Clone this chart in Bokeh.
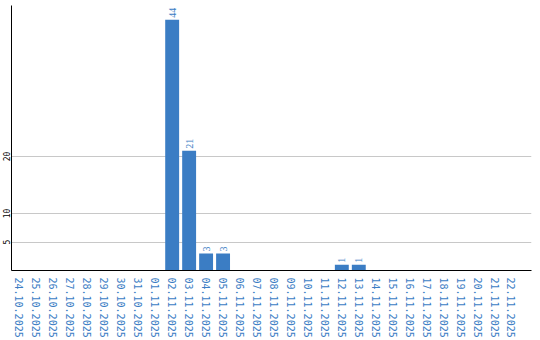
from bokeh.plotting import figure
from bokeh.models import Range1d, FixedTicker, ColumnDataSource, LabelSet
from bokeh.embed import file_html
from bokeh.resources import INLINE
import math

dates = ["24.10.2025", "25.10.2025", "26.10.2025", "27.10.2025", "28.10.2025",
         "29.10.2025", "30.10.2025", "31.10.2025", "01.11.2025", "02.11.2025",
         "03.11.2025", "04.11.2025", "05.11.2025", "06.11.2025", "07.11.2025",
         "08.11.2025", "09.11.2025", "10.11.2025", "11.11.2025", "12.11.2025",
         "13.11.2025", "14.11.2025", "15.11.2025", "16.11.2025", "17.11.2025",
         "18.11.2025", "19.11.2025", "20.11.2025", "21.11.2025", "22.11.2025"]
counts = [0, 0, 0, 0, 0, 0, 0, 0, 0, 44,
          21, 3, 3, 0, 0, 0, 0, 0, 0, 1,
          1, 0, 0, 0, 0, 0, 0, 0, 0, 0]
y_ticks = [5, 10, 20]

BLUE = "#3b7dc4"

idx = list(range(len(dates)))
src = ColumnDataSource(dict(x=idx, top=counts))
lab_x = [i for i, c in zip(idx, counts) if c > 0]
lab_y = [c for c in counts if c > 0]
lab_t = [str(c) for c in counts if c > 0]
lab_src = ColumnDataSource(dict(x=lab_x, y=lab_y, t=lab_t))

p = figure(width=540, height=340, output_backend="svg", toolbar_location=None,
           x_range=Range1d(-0.47, 30.18), y_range=Range1d(0, 46.5),
           min_border_left=0, min_border_right=9, min_border_top=5,
           min_border_bottom=0)
p.outline_line_color = None
p.background_fill_color = "white"
p.border_fill_color = "white"

p.vbar(x="x", top="top", width=0.82, bottom=0, source=src,
       fill_color=BLUE, line_color=None)

labels = LabelSet(x="x", y="y", text="t", source=lab_src, angle=math.pi / 2,
                  text_align="left", text_baseline="middle", y_offset=2,
                  text_font="DejaVu Sans Mono", text_font_size="10px",
                  text_color=BLUE)
p.add_layout(labels)

# y axis
ya = p.yaxis[0]
ya.ticker = FixedTicker(ticks=y_ticks)
ya.major_label_orientation = "vertical"
ya.major_label_text_font = "DejaVu Sans Mono"
ya.major_label_text_font_size = "8px"
ya.major_label_text_color = "black"
ya.major_tick_line_color = None
ya.minor_tick_line_color = None
ya.major_label_standoff = -5
ya.axis_line_color = "black"
ya.axis_line_width = 1

# x axis
xa = p.xaxis[0]
xa.ticker = FixedTicker(ticks=idx)
xa.major_label_overrides = {i: d for i, d in zip(idx, dates)}
xa.major_label_orientation = "vertical"
xa.major_label_text_font = "DejaVu Sans Mono"
xa.major_label_text_font_size = "10px"
xa.major_label_text_color = BLUE
xa.major_tick_line_color = None
xa.minor_tick_line_color = None
xa.major_label_standoff = 1
xa.axis_line_color = "black"
xa.axis_line_width = 1

p.xgrid.grid_line_color = None
p.ygrid.ticker = FixedTicker(ticks=y_ticks)
p.ygrid.grid_line_color = "#c8c8c8"
p.ygrid.grid_line_width = 1

open("out.html", "w").write(file_html(p, INLINE))
